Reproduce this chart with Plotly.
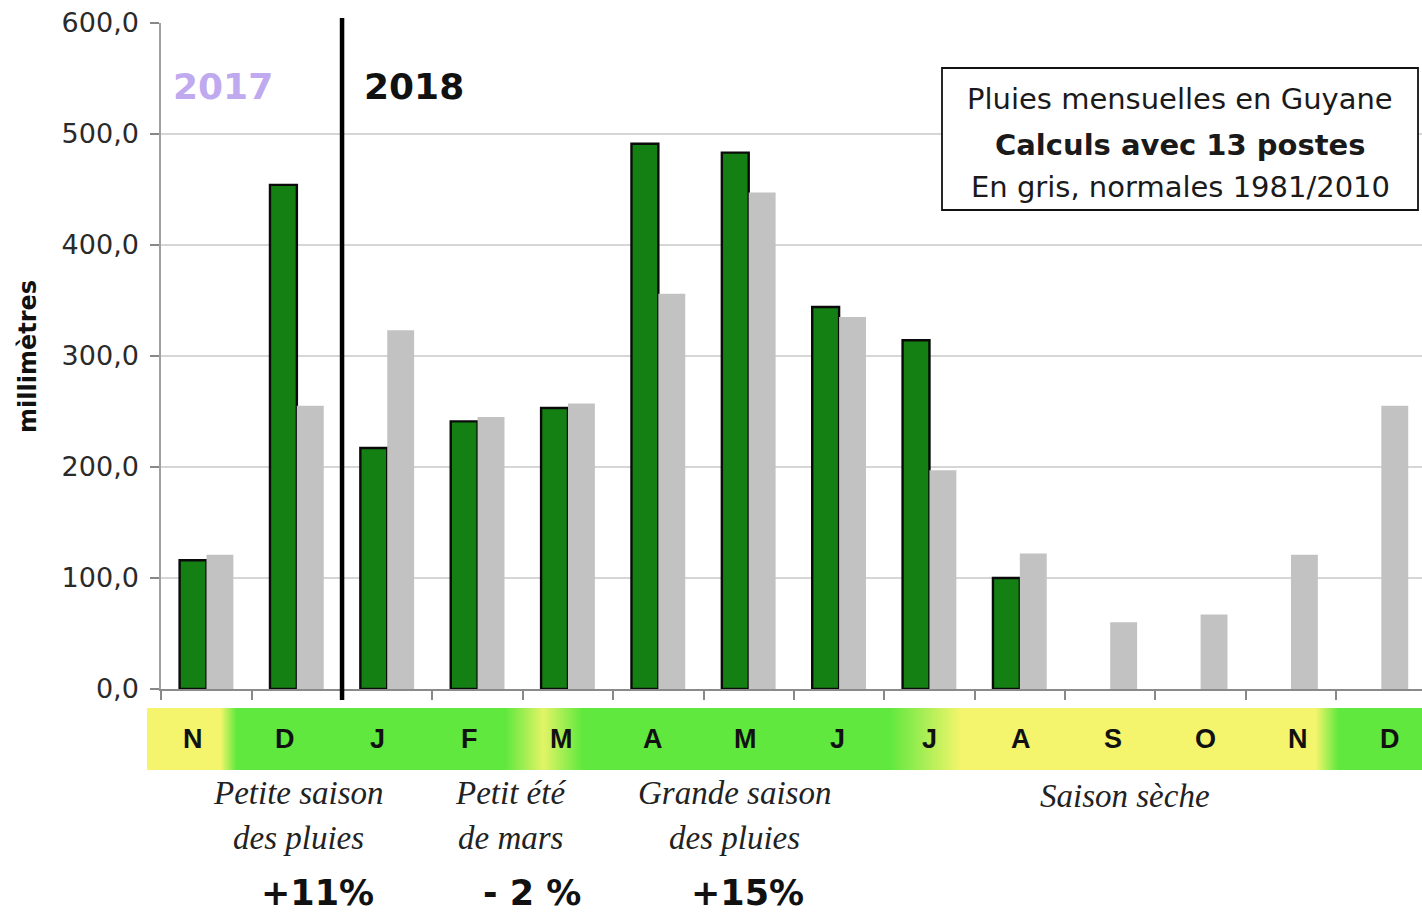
import plotly.graph_objects as go

# ---------------- data ----------------
months = ["N", "D", "J", "F", "M", "A", "M", "J", "J", "A", "S", "O", "N", "D"]
pluies_2017_2018 = [116, 454, 217, 241, 253, 491, 483, 344, 314, 100, None, None, None, None]
normales_1981_2010 = [121, 255, 323, 245, 257, 356, 447, 335, 197, 122, 60, 67, 121, 255]
y_ticks = [0, 100, 200, 300, 400, 500, 600]

season_line1 = ["Petite saison", "Petit été", "Grande saison", "Saison sèche"]
season_line2 = ["des pluies", "de mars", "des pluies", ""]
season_center = [1.02, 3.36, 5.84, 10.16]          # in month units
season_anomaly = ["+11%", "- 2 %", "+15%"]
anomaly_center = [1.23, 3.6, 5.99]

# season colour band: positions (month units) and "greenness" (0 = dry yellow, 1 = rainy green)
band_pos = [-0.66, 0.15, 0.33, 3.3, 3.72, 4.15, 7.55, 8.35, 12.27, 12.52, 13.5]
band_green = [0, 0, 1, 1, 0.12, 1, 1, 0, 0, 1, 1]
band_label_start, band_label_step = -0.15, 1.0186   # letters on the band are spaced a bit wider
year_split = 1.5   # between Dec 2017 and Jan 2018

# ---------------- geometry (px of the 1422 x 917 page) ----------------
W, H = 1422, 917
def px(x):
    return x / W
def py(y):
    return 1 - y / H

x_idx = list(range(len(months)))

fig = go.Figure()

fig.add_trace(go.Heatmap(
    x=band_pos, y=[0, 1], z=[band_green, band_green],
    xaxis="x2", yaxis="y2", zmin=0, zmax=1, zsmooth="best",
    colorscale=[[0, "#f4f56c"], [1, "#60e83e"]], showscale=False, hoverinfo="skip"))

fig.add_trace(go.Bar(
    x=x_idx, y=pluies_2017_2018, name="2017/2018",
    marker=dict(color="#148014", line=dict(color="#0a0a0a", width=2.4))))
fig.add_trace(go.Bar(
    x=x_idx, y=normales_1981_2010, name="Normales 1981/2010",
    marker=dict(color="#c2c2c2", line=dict(width=0))))

fig.update_layout(
    width=W, height=H,
    margin=dict(l=0, r=0, t=0, b=0, pad=0, autoexpand=False),
    paper_bgcolor="white", plot_bgcolor="white",
    showlegend=False,
    barmode="group", bargap=0.405, bargroupgap=0,
    separators=", ",
    font=dict(family="DejaVu Sans", color="#222"),
    xaxis=dict(domain=[px(161.3), 1], range=[-0.5, 13.45], automargin=False,
               showgrid=False, zeroline=False, showticklabels=False,
               tickmode="array", tickvals=[i - 0.5 for i in x_idx],
               ticks="outside", ticklen=9, tickwidth=1.5, tickcolor="#888",
               showline=True, linecolor="#8a8a8a", linewidth=2, anchor="y"),
    yaxis=dict(domain=[py(689), py(22.7)], range=[0, 600], automargin=False,
               tickmode="array", tickvals=y_ticks, tickformat=".1f",
               ticks="outside", ticklen=9, tickwidth=1.5, tickcolor="#888",
               ticklabelstandoff=6,
               tickfont=dict(family="DejaVu Sans", size=27, color="#2a2a2a"),
               showgrid=True, gridcolor="#d6d6d6", gridwidth=1.6,
               zeroline=False, showline=True, linecolor="#a0a0a0", linewidth=2, anchor="x"),
    xaxis2=dict(domain=[px(147), 1], range=[-0.658, 13.45], visible=False,
                automargin=False, anchor="y2"),
    yaxis2=dict(domain=[py(770), py(708)], range=[-0.5, 1.5], visible=False,
                automargin=False, anchor="x2"),
)

# year divider
fig.add_shape(type="line", xref="x", yref="paper", x0=year_split, x1=year_split,
              y0=py(700), y1=py(18), line=dict(color="black", width=4.5), layer="above")

# info box
fig.add_shape(type="rect", xref="paper", yref="paper",
              x0=px(942), x1=px(1418), y0=py(210), y1=py(68),
              line=dict(color="#111", width=1.8), fillcolor="white", layer="above")
box_lines = ["Pluies mensuelles en Guyane", "<b>Calculs avec 13 postes</b>", "En gris, normales 1981/2010"]
box_y = [99, 145, 187]
for t, yy in zip(box_lines, box_y):
    fig.add_annotation(text=t, xref="paper", yref="paper", x=px(1180), y=py(yy),
                       showarrow=False, xanchor="center", yanchor="middle",
                       font=dict(family="DejaVu Sans", size=29, color="#1a1a1a"))

# year labels
fig.add_annotation(text="<b>2017</b>", xref="x", yref="paper", x=0.18, y=py(86),
                   showarrow=False, xanchor="center", yanchor="middle",
                   font=dict(family="DejaVu Sans", size=36, color="#bfa9ef"))
fig.add_annotation(text="<b>2018</b>", xref="x", yref="paper", x=2.3, y=py(86),
                   showarrow=False, xanchor="center", yanchor="middle",
                   font=dict(family="DejaVu Sans", size=36, color="#111"))

# y axis title
fig.add_annotation(text="<b>millimètres</b>", xref="paper", yref="paper", x=px(28), y=py(357),
                   showarrow=False, textangle=-90, xanchor="center", yanchor="middle",
                   font=dict(family="DejaVu Sans", size=24, color="#111"))

# month letters on the band
for i, m in zip(x_idx, months):
    fig.add_annotation(text="<b>%s</b>" % m, xref="x", yref="paper",
                       x=band_label_start + band_label_step * i, y=py(739),
                       showarrow=False, xanchor="center", yanchor="middle",
                       font=dict(family="Liberation Sans Narrow, Liberation Sans", size=27, color="#111"))

# seasons
for l1, l2, c in zip(season_line1, season_line2, season_center):
    fig.add_annotation(text="<i>%s</i>" % l1, xref="x", yref="paper", x=c,
                       y=py(796 if l2 == "" else 793), showarrow=False,
                       xanchor="center", yanchor="middle",
                       font=dict(family="Liberation Serif", size=33, color="#222"))
    if l2:
        fig.add_annotation(text="<i>%s</i>" % l2, xref="x", yref="paper", x=c, y=py(838),
                           showarrow=False, xanchor="center", yanchor="middle",
                           font=dict(family="Liberation Serif", size=33, color="#222"))
for a, c in zip(season_anomaly, anomaly_center):
    fig.add_annotation(text="<b>%s</b>" % a, xref="x", yref="paper", x=c, y=py(893),
                       showarrow=False, xanchor="center", yanchor="middle",
                       font=dict(family="DejaVu Sans", size=35, color="#111"))

fig.write_html("out.html", config={"displayModeBar": False},
               post_script="document.body.style.margin='0';document.body.style.overflow='hidden';")
